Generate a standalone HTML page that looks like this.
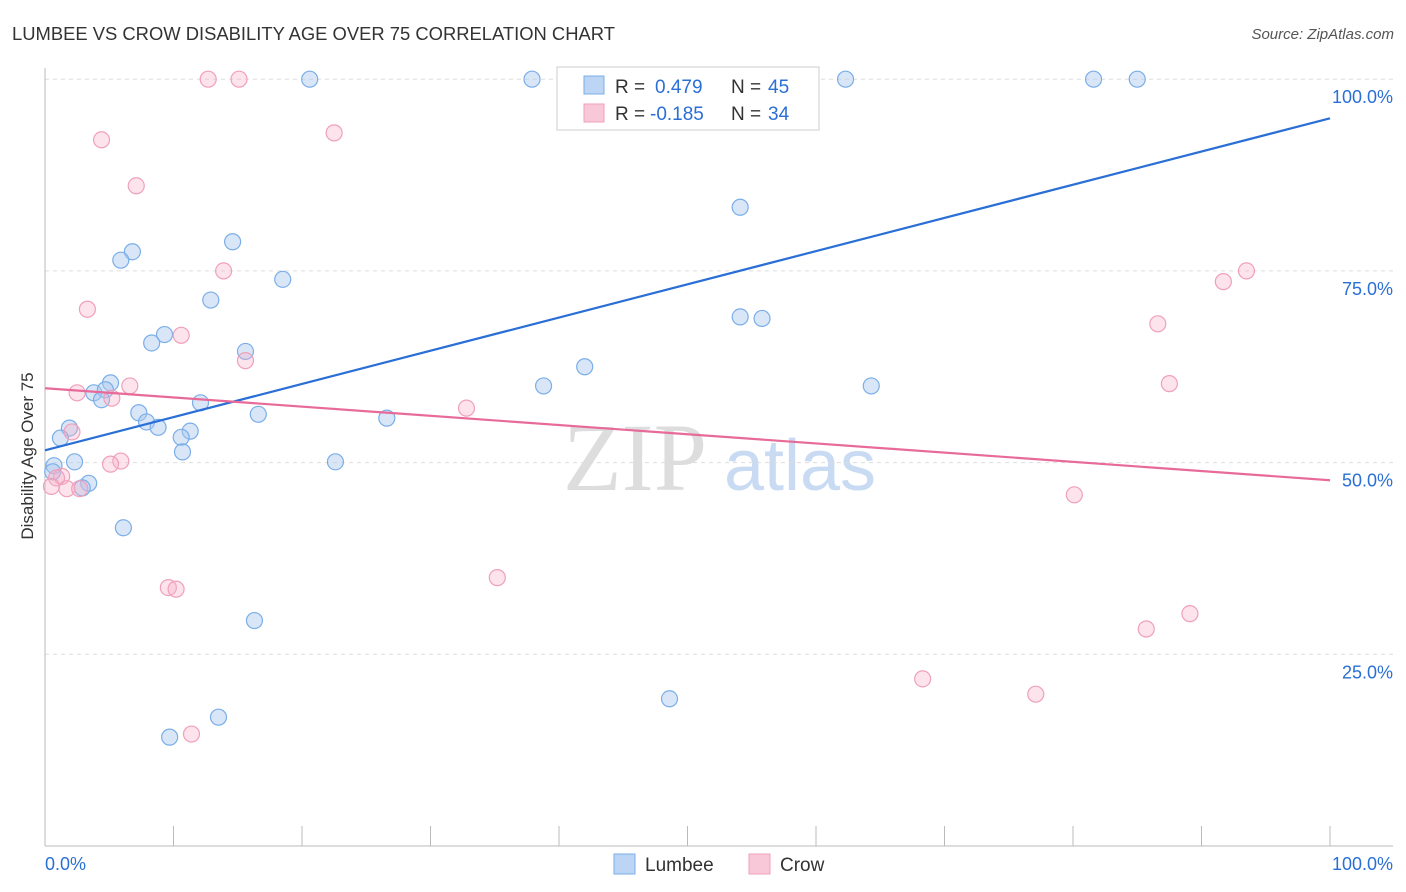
<!DOCTYPE html>
<html><head><meta charset="utf-8"><style>
body{margin:0;background:#fff;font-family:"Liberation Sans",sans-serif;}
svg{display:block}
</style></head><body>
<svg id="chart" width="1406" height="892" xmlns="http://www.w3.org/2000/svg">
<text x="12" y="40" font-size="18.4" fill="#333">LUMBEE VS CROW DISABILITY AGE OVER 75 CORRELATION CHART</text>
<text x="1394" y="39" font-size="15" fill="#555" font-style="italic" text-anchor="end">Source: ZipAtlas.com</text>
<g>
<text x="635" y="490" font-size="96" fill="#ddd" font-family="Liberation Serif,serif" text-anchor="middle">ZIP</text>
<text x="800" y="490" font-size="72" fill="#c9dbf3" text-anchor="middle">atlas</text>
</g>
<g id="grid"></g>
<g id="axes"></g>
<g id="marks"></g>
<text transform="translate(33,456) rotate(-90)" font-size="17" fill="#333" text-anchor="middle">Disability Age Over 75</text>
<g>
<rect x="557" y="67" width="262" height="63" fill="#fff" stroke="#ccc"/>
<g>
<rect x="584" y="76" width="20" height="18" fill="#bcd5f5" stroke="#7aaee8"/>
<text x="615" y="93" font-size="19" fill="#333">R =</text>
<text x="655" y="93" font-size="19" fill="#2a6fd6">0.479</text>
<text x="731" y="93" font-size="19" fill="#333">N =</text>
<text x="768" y="93" font-size="19" fill="#2a6fd6">45</text>
</g>
<g>
<rect x="584" y="104" width="20" height="18" fill="#f8c8d8" stroke="#f0a0bb"/>
<text x="615" y="120" font-size="19" fill="#333">R =</text>
<text x="650" y="120" font-size="19" fill="#2a6fd6">-0.185</text>
<text x="731" y="120" font-size="19" fill="#333">N =</text>
<text x="768" y="120" font-size="19" fill="#2a6fd6">34</text>
</g>
</g>
<g>
<g><rect x="614" y="854" width="21" height="20" fill="#bcd5f5" stroke="#7aaee8"/><text x="645" y="871" font-size="19" fill="#333">Lumbee</text></g>
<g><rect x="749" y="854" width="21" height="20" fill="#f8c8d8" stroke="#f0a0bb"/><text x="780" y="871" font-size="19" fill="#333">Crow</text></g>
</g>
</svg>
<script>
const lumbeeX=[20.6,37.9,62.3,81.6,85.0,54.1,14.6,6.8,5.9,18.5,12.9,54.1,55.8,9.3,8.3,15.6,5.1,42.0,38.8,64.3,3.8,4.7,4.4,12.1,7.3,16.6,26.6,7.9,8.8,1.9,11.3,1.2,10.6,10.7,22.6,2.3,0.7,0.6,3.4,2.9,6.1,16.3,48.6,13.5,9.7];
const lumbeeY=[100,100,100,100,100,83.3,78.8,77.5,76.4,73.9,71.2,69.0,68.8,66.7,65.6,64.5,60.4,62.5,60.0,60.0,59.1,59.5,58.2,57.8,56.5,56.3,55.8,55.3,54.6,54.5,54.1,53.2,53.3,51.4,50.1,50.1,49.6,48.8,47.3,46.7,41.5,29.4,19.2,16.8,14.2];
const crowX=[12.7,15.1,4.4,22.5,7.1,13.9,93.5,91.7,3.3,10.6,86.6,15.6,87.5,6.6,2.5,5.2,32.8,2.1,5.9,5.1,1.3,0.9,0.5,1.7,2.7,80.1,35.2,9.6,10.2,89.1,85.7,68.3,77.1,11.4];
const crowY=[100,100,92.1,93.0,86.1,75.0,75.0,73.6,70.0,66.6,68.1,63.3,60.3,60.0,59.1,58.4,57.1,54.0,50.2,49.8,48.2,48.0,46.9,46.6,46.6,45.8,35.0,33.7,33.5,30.3,28.3,21.8,19.8,14.6];
const lumbeeTrend=[51.6,94.9];
const crowTrend=[59.7,47.7];
const yTicks=[25,50,75,100];
const yTickLabels=["25.0%","50.0%","75.0%","100.0%"];
const xTicks=[0,10,20,30,40,50,60,70,80,90,100];

const NS="http://www.w3.org/2000/svg";
const X=v=>45+v*12.85, Y=v=>846-v*7.668;
function mk(t,a,p){const e=document.createElementNS(NS,t);for(const k in a)e.setAttribute(k,a[k]);p.appendChild(e);return e;}
const grid=document.getElementById('grid'),axes=document.getElementById('axes'),marks=document.getElementById('marks');
yTicks.forEach((t,i)=>{
 const l=mk('line',{x1:45,x2:1393,y1:Y(t),y2:Y(t),stroke:'#ddd','stroke-dasharray':'4,4'},grid);
 
 
 const tx=mk('text',{x:1393,y:Y(t)+24,'font-size':18,fill:'#2a6fd6','text-anchor':'end'},axes);
 tx.textContent=yTickLabels[i];
 
 
});
const ya=mk('line',{x1:45,x2:45,y1:68,y2:846,stroke:'#bbb'},axes);


const xa=mk('line',{x1:45,x2:1393,y1:846,y2:846,stroke:'#bbb'},axes);


xTicks.forEach(t=>{const l=mk('line',{x1:X(t),x2:X(t),y1:826,y2:846,stroke:'#bbb'},axes);
 
 });
[[0,'0.0%','start',45],[100,'100.0%','end',1393]].forEach(d=>{const t=mk('text',{x:d[3],y:870,'font-size':18,fill:'#2a6fd6','text-anchor':d[2]},axes);t.textContent=d[1];
 
 });
function pts(xs,ys,fill,stroke,name){xs.forEach((x,i)=>{const c=mk('circle',{cx:X(x),cy:Y(ys[i]),r:8,fill:fill,stroke:stroke,'stroke-width':1.2},marks);
 
 });}
pts(lumbeeX,lumbeeY,'rgba(170,200,240,0.45)','#7aaee8','lumbee-point');
pts(crowX,crowY,'rgba(245,175,200,0.35)','#f0a0bb','crow-point');
const t1=mk('line',{x1:X(0),y1:Y(lumbeeTrend[0]),x2:X(100),y2:Y(lumbeeTrend[1]),stroke:'#2a6fd6','stroke-width':2.2},marks);


const t2=mk('line',{x1:X(0),y1:Y(crowTrend[0]),x2:X(100),y2:Y(crowTrend[1]),stroke:'#e86a98','stroke-width':2.2},marks);


</script>
</body></html>
